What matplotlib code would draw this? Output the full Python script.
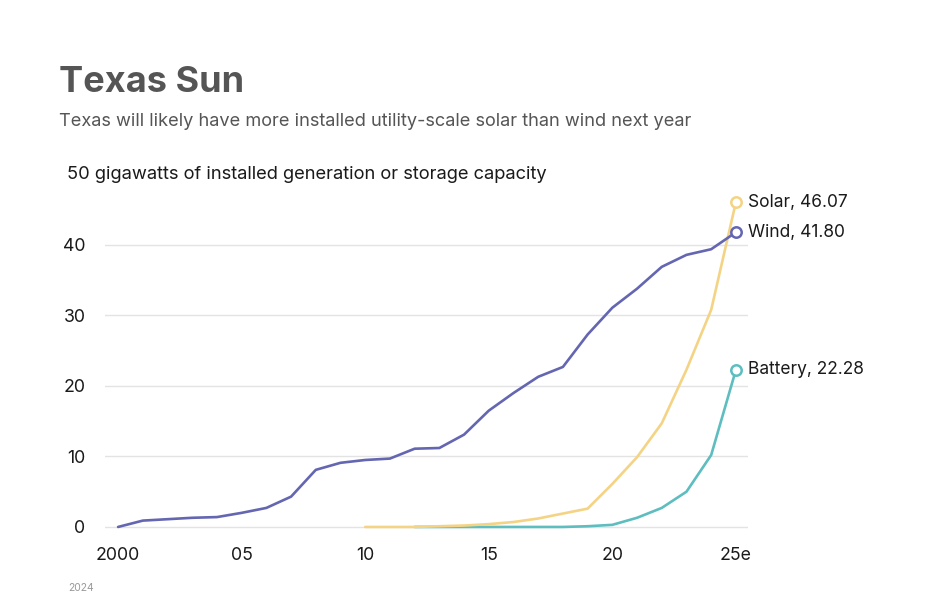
import matplotlib
matplotlib.use("Agg")
import matplotlib.pyplot as plt
import matplotlib.transforms as mtransforms

years_wind = list(range(2000, 2026))
wind = [0.0, 0.9, 1.1, 1.3, 1.4, 2.0, 2.7, 4.3, 8.1, 9.1, 9.5, 9.7, 11.1, 11.2,
        13.1, 16.5, 19.0, 21.3, 22.7, 27.3, 31.1, 33.8, 36.9, 38.6, 39.4, 41.80]
years_solar = list(range(2010, 2026))
solar = [0.0, 0.0, 0.0, 0.1, 0.2, 0.4, 0.7, 1.2, 1.9, 2.6, 6.1, 9.9, 14.7,
         22.3, 30.8, 46.07]
years_battery = list(range(2012, 2026))
battery = [0.0, 0.0, 0.0, 0.0, 0.0, 0.0, 0.0, 0.1, 0.3, 1.3, 2.7, 5.0, 10.2, 22.28]

xticks = [2000, 2005, 2010, 2015, 2020, 2025]
xticklabels = ["2000", "05", "10", "15", "20", "25e"]
yticks = [0, 10, 20, 30, 40]

plt.rcParams['font.family'] = ['Inter', 'DejaVu Sans']

W, H = 940, 614
fig = plt.figure(figsize=(W / 100, H / 100), dpi=100)
fig.patch.set_facecolor("white")

ax = fig.add_axes([105 / W, (H - 534) / H, (748 - 105) / W, (534 - 174.5) / H])
ax.set_xlim(1999.47, 2025.49)
ax.set_ylim(-1, 50)

for s in ax.spines.values():
    s.set_visible(False)
for y in yticks:
    ax.axhline(y, color="#e3e3e3", lw=1.0, zorder=0)

c_wind = "#6466b2"
c_solar = "#f4d484"
c_batt = "#5dbdbf"

ax.plot(years_solar, solar, color=c_solar, lw=1.9, zorder=3, solid_capstyle="round")
ax.plot(years_battery, battery, color=c_batt, lw=1.9, zorder=2, solid_capstyle="round")
ax.plot(years_wind, wind, color=c_wind, lw=1.9, zorder=4, solid_capstyle="round")

for yrs, vals, c, name in [(years_solar, solar, c_solar, "Solar"),
                           (years_wind, wind, c_wind, "Wind"),
                           (years_battery, battery, c_batt, "Battery")]:
    ax.plot([yrs[-1]], [vals[-1]], marker="o", ms=7.5, mfc="white", mec=c,
            mew=1.8, zorder=5, clip_on=False)
    ax.annotate(f"{name}, {vals[-1]:.2f}", (yrs[-1], vals[-1]), xytext=(9, 0),
                textcoords="offset points", va="center", ha="left",
                fontsize=12.5, color="#1a1a1a")

ax.set_xticks(xticks)
ax.set_xticklabels(xticklabels)
ax.set_yticks(yticks)
ax.tick_params(axis="both", length=0, labelsize=12.8, labelcolor="#1a1a1a")
ax.tick_params(axis="y", pad=14)
ax.tick_params(axis="x", pad=9)

trans = mtransforms.blended_transform_factory(fig.transFigure, ax.transData)
ax.text(67 / W, 50, "50 gigawatts of installed generation or storage capacity",
        transform=trans, fontsize=13.2, color="#1a1a1a", va="center", ha="left")

fig.text(59 / W, 1 - 82 / H, "Texas Sun", fontsize=26, fontweight="bold",
         color="#555555", va="center", ha="left")
fig.text(59 / W, 1 - 122 / H,
         "Texas will likely have more installed utility-scale solar than wind next year",
         fontsize=13.1, color="#555555", va="center", ha="left")
fig.text(68 / W, 1 - 588 / H, "2024", fontsize=7.5, color="#999999",
         va="center", ha="left")

fig.savefig("out.png", dpi=100, facecolor="white")
